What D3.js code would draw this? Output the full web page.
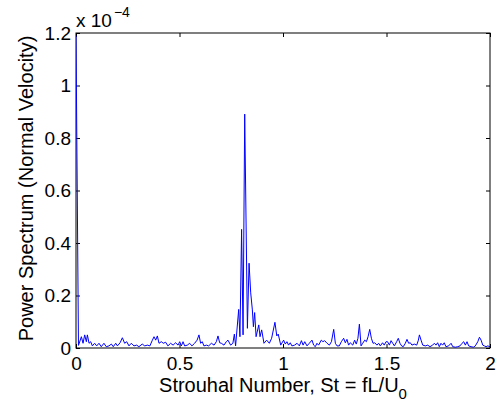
<!DOCTYPE html>
<meta charset="utf-8">
<script src="https://d3js.org/d3.v7.min.js"></script>
<style>
  body { margin: 0; background: #fff; }
  text { font-family: "Liberation Sans", Arial, Helvetica, sans-serif; }
</style>
<div id="my_dataviz"></div>
<script>

// Strouhal number of each vertex
var strouhal = [
  0, 0.012, 0.026, 0.034, 0.042, 0.050, 0.055, 0.063, 0.071, 0.079,
  0.090, 0.100, 0.111, 0.122, 0.135, 0.146, 0.159, 0.171, 0.180, 0.192,
  0.200, 0.213, 0.224, 0.235, 0.245, 0.256, 0.267, 0.280, 0.293, 0.304,
  0.320, 0.332, 0.345, 0.357, 0.369, 0.377, 0.385, 0.393, 0.401, 0.412,
  0.422, 0.433, 0.444, 0.457, 0.469, 0.481, 0.493, 0.501, 0.509, 0.517,
  0.525, 0.538, 0.549, 0.560, 0.573, 0.585, 0.594, 0.602, 0.610, 0.618,
  0.630, 0.641, 0.654, 0.667, 0.678, 0.686, 0.694, 0.702, 0.715, 0.726,
  0.734, 0.747, 0.758, 0.765, 0.771, 0.786, 0.792, 0.800, 0.807, 0.815,
  0.828, 0.836, 0.844, 0.852, 0.857, 0.863, 0.870, 0.883, 0.889, 0.897,
  0.908, 0.921, 0.934, 0.945, 0.961, 0.970, 0.977, 0.989, 1.003, 1.011,
  1.019, 1.027, 1.035, 1.043, 1.056, 1.068, 1.079, 1.089, 1.097, 1.105,
  1.116, 1.127, 1.140, 1.148, 1.156, 1.164, 1.172, 1.185, 1.193, 1.201,
  1.213, 1.224, 1.234, 1.245, 1.253, 1.261, 1.272, 1.282, 1.293, 1.301,
  1.309, 1.317, 1.325, 1.337, 1.346, 1.354, 1.362, 1.369, 1.377, 1.385,
  1.395, 1.403, 1.411, 1.419, 1.427, 1.435, 1.443, 1.454, 1.462, 1.470,
  1.481, 1.489, 1.498, 1.505, 1.514, 1.522, 1.530, 1.538, 1.549, 1.557,
  1.565, 1.573, 1.581, 1.591, 1.599, 1.607, 1.615, 1.623, 1.634, 1.646,
  1.654, 1.659, 1.667, 1.675, 1.688, 1.699, 1.710, 1.723, 1.731, 1.739,
  1.747, 1.755, 1.763, 1.771, 1.779, 1.787, 1.800, 1.812, 1.820, 1.833,
  1.844, 1.855, 1.865, 1.873, 1.881, 1.889, 1.897, 1.908, 1.920, 1.929,
  1.941, 1.949, 1.957, 1.965, 1.973, 1.981, 1.989, 2.000
];

// power spectrum of the normal velocity, in units of 1e-4
var power = [
  1.190, 0.010, 0.043, 0.018, 0.050, 0.024, 0.050, 0.018, 0.024, 0.008,
  0.018, 0.008, 0.018, 0.005, 0.018, 0.005, 0.008, 0.015, 0.005, 0.018,
  0.008, 0.020, 0.039, 0.018, 0.024, 0.008, 0.018, 0.008, 0.011, 0.005,
  0.015, 0.008, 0.011, 0.008, 0.030, 0.043, 0.030, 0.046, 0.018, 0.024,
  0.018, 0.022, 0.008, 0.018, 0.011, 0.020, 0.011, 0.024, 0.008, 0.024,
  0.008, 0.011, 0.018, 0.008, 0.018, 0.030, 0.050, 0.018, 0.024, 0.008,
  0.011, 0.008, 0.018, 0.011, 0.024, 0.046, 0.020, 0.018, 0.011, 0.024,
  0.030, 0.011, 0.018, 0.053, 0.008, 0.147, 0.043, 0.452, 0.050, 0.891,
  0.075, 0.323, 0.210, 0.145, 0.081, 0.135, 0.043, 0.088, 0.043, 0.069,
  0.018, 0.030, 0.018, 0.037, 0.098, 0.046, 0.053, 0.011, 0.030, 0.015,
  0.024, 0.011, 0.020, 0.008, 0.011, 0.018, 0.008, 0.028, 0.011, 0.024,
  0.008, 0.018, 0.030, 0.011, 0.005, 0.018, 0.011, 0.030, 0.024, 0.028,
  0.018, 0.011, 0.024, 0.071, 0.018, 0.008, 0.008, 0.024, 0.037, 0.020,
  0.033, 0.011, 0.020, 0.011, 0.030, 0.015, 0.037, 0.091, 0.008, 0.018,
  0.030, 0.024, 0.043, 0.071, 0.037, 0.018, 0.020, 0.011, 0.018, 0.008,
  0.020, 0.011, 0.024, 0.024, 0.011, 0.028, 0.018, 0.008, 0.024, 0.037,
  0.018, 0.008, 0.005, 0.018, 0.033, 0.018, 0.020, 0.011, 0.015, 0.011,
  0.030, 0.050, 0.030, 0.011, 0.008, 0.011, 0.005, 0.011, 0.018, 0.011,
  0.020, 0.005, 0.018, 0.011, 0.020, 0.005, 0.008, 0.018, 0.005, 0.003,
  0.005, 0.008, 0.018, 0.024, 0.011, 0.024, 0.008, 0.005, 0.003, 0.008,
  0.024, 0.041, 0.030, 0.011, 0.008, 0.005, 0.008, 0.005
];

var xTicks = [0, 0.5, 1, 1.5, 2];
var yTicks = [0, 0.2, 0.4, 0.6, 0.8, 1, 1.2];

var margin = {top: 33, right: 10, bottom: 57, left: 76},
    width = 500 - margin.left - margin.right,
    height = 405 - margin.top - margin.bottom;

var svg = d3.select("#my_dataviz")
  .append("svg")
    .attr("width", 500)
    .attr("height", 405)
  .append("g")
    .attr("transform", "translate(" + margin.left + "," + margin.top + ")");

var x = d3.scaleLinear().domain([0, 2]).range([0, width]);
var y = d3.scaleLinear().domain([0, 1.2]).range([height, 0]);

// clip so the spike at St = 0 stays inside the box
svg.append("clipPath").attr("id", "plotclip")
  .append("rect").attr("width", width).attr("height", height);

// axes, ticks pointing inward like matlab
var xAxis = svg.append("g")
  .attr("transform", "translate(0," + height + ")")
  .call(d3.axisBottom(x).tickValues(xTicks).tickSizeInner(-4).tickSizeOuter(0)
    .tickPadding(9).tickFormat(function(d) { return String(d); }));
var yAxis = svg.append("g")
  .call(d3.axisLeft(y).tickValues(yTicks).tickSizeInner(-4).tickSizeOuter(0)
    .tickPadding(5).tickFormat(function(d) { return String(d); }));
svg.append("g")
  .call(d3.axisTop(x).tickValues(xTicks).tickSizeInner(-4).tickSizeOuter(0).tickFormat(""));
svg.append("g")
  .attr("transform", "translate(" + width + ",0)")
  .call(d3.axisRight(y).tickValues(yTicks).tickSizeInner(-4).tickSizeOuter(0).tickFormat(""));

svg.selectAll(".tick line").attr("stroke", "#000");
svg.selectAll(".domain").remove();
svg.selectAll(".tick text")
  .attr("fill", "#000")
  .style("font-size", "19px");

// box
svg.append("rect")
  .attr("width", width)
  .attr("height", height)
  .attr("fill", "none")
  .attr("stroke", "#000")
  .attr("stroke-width", 1);

// spectrum
var line = d3.line()
  .x(function(d, i) { return x(strouhal[i]); })
  .y(function(d) { return y(d); });

svg.append("path")
  .datum(power)
  .attr("clip-path", "url(#plotclip)")
  .attr("fill", "none")
  .attr("stroke", "#0000ff")
  .attr("stroke-width", 1)
  .attr("d", line);

// exponent
var expo = svg.append("text")
  .attr("x", 0)
  .attr("y", -6)
  .style("font-size", "19px")
  .text("x 10");
expo.append("tspan")
  .attr("dy", -10)
  .attr("dx", 2)
  .style("font-size", "14px")
  .text("\u22124");

// axis labels
var xl = svg.append("text")
  .attr("x", width / 2)
  .attr("y", height + 44)
  .attr("text-anchor", "middle")
  .style("font-size", "20px")
  .text("Strouhal Number, St = fL/U");
xl.append("tspan")
  .attr("dy", 7)
  .style("font-size", "15px")
  .text("0");

svg.append("text")
  .attr("transform", "rotate(-90)")
  .attr("x", -height / 2 + 2)
  .attr("y", -43)
  .attr("text-anchor", "middle")
  .style("font-size", "20px")
  .text("Power Spectrum (Normal Velocity)");

</script>
